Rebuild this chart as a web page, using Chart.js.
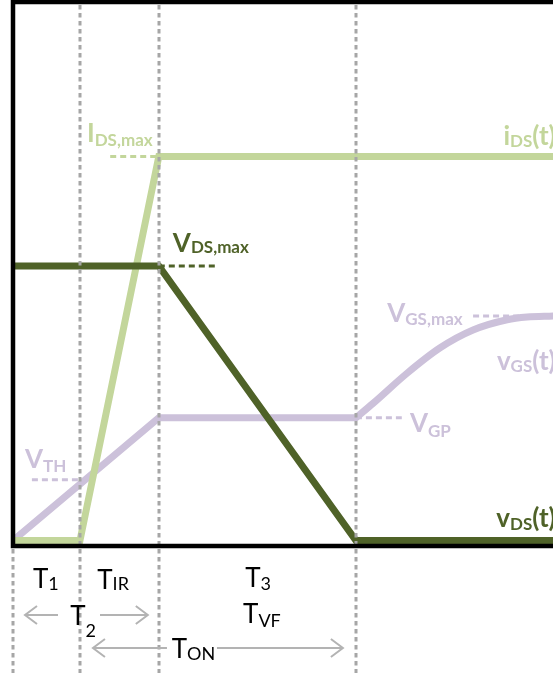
<!DOCTYPE html>
<html>
<head>
<meta charset="utf-8">
<script src="https://cdn.jsdelivr.net/npm/chart.js@4/dist/chart.umd.min.js"></script>
<style>
html, body { margin: 0; padding: 0; background: #fff; overflow: hidden; }
canvas { display: block; }
</style>
</head>
<body>
<canvas id="c" width="553" height="673"></canvas>
<script>
// Turn-on interval boundaries (time, arbitrary units): start, T1 end, T_IR end, T_VF end
const phaseTimes = [0, 1.24, 2.70, 6.35];
const tEnd = 10;

// Reference levels
const I_DS_MAX = 7.13;
const V_DS_MAX = 5.10;
const V_TH = 1.13;
const V_GP = 2.28;
const V_GS_MAX = 4.17;

// Drain current i_DS(t)
const iDsTime = [0, 1.24, 2.70, 10];
const iDsValue = [0, 0, I_DS_MAX, I_DS_MAX];

// Drain-source voltage v_DS(t)
const vDsTime = [0, 2.70, 6.35, 10];
const vDsValue = [V_DS_MAX, V_DS_MAX, 0, 0];

// Gate-source voltage v_GS(t): linear charge and Miller plateau
const vGsTime = [0, 2.70, 6.35];
const vGsValue = [0, V_GP, V_GP];

// Gate-source voltage v_GS(t): final charge after the plateau
const vGsTailTime = [6.35, 6.67, 7.30, 7.91, 8.52, 9.15, 9.52, 10];
const vGsTailValue = [V_GP, 2.55, 3.11, 3.58, 3.91, 4.10, 4.15, V_GS_MAX];

// Short dashed leaders tying each level label to its waveform
const guideIdsX = [1.80, 2.70];
const guideVdsX = [2.70, 3.74];
const guideVthX = [0.35, 1.24];
const guideVgpX = [6.35, 7.20];
const guideVgsX = [8.52, 9.60];

const LIGHT_GREEN = '#c3d69b';
const DARK_GREEN = '#4f6228';
const LAVENDER = '#ccc1da';
const GRID_GRAY = '#a6a6a6';
const FONT = 'Lato, "Open Sans", sans-serif';

const pts = (xs, ys) => xs.map((x, i) => ({ x, y: ys[i] }));
const flat = (xs, y) => xs.map(x => ({ x, y }));

const wave = (data, color, extra) => Object.assign({
  data, borderColor: color, borderWidth: 7, pointRadius: 0,
  tension: 0, borderJoinStyle: 'miter', fill: false
}, extra || {});
const guide = (data, color) => ({
  data, borderColor: color, borderWidth: 3, pointRadius: 0,
  borderDash: [6, 4], tension: 0, fill: false
});

// Text with a subscript and an optional trailing part
function drawSub(ctx, x, y, parts, align) {
  const { main, sub, tail, color, bold, size, subSize, subDy } = parts;
  const w = bold ? 'bold ' : '';
  const mainFont = w + size + 'px ' + FONT;
  const subFont = w + subSize + 'px ' + FONT;
  ctx.font = mainFont; const wMain = ctx.measureText(main).width;
  const wTail = tail ? ctx.measureText(tail).width : 0;
  ctx.font = subFont; const wSub = ctx.measureText(sub).width;
  let left = x;
  if (align === 'right') left = x - (wMain + wSub + wTail);
  ctx.fillStyle = color;
  ctx.textBaseline = 'alphabetic';
  ctx.textAlign = 'left';
  ctx.font = mainFont; ctx.fillText(main, left, y);
  ctx.font = subFont; ctx.fillText(sub, left + wMain, y + subDy);
  if (tail) { ctx.font = mainFont; ctx.fillText(tail, left + wMain + wSub, y); }
}

function arrow(ctx, x0, x1, y) {
  // shaft from x0 to x1, open head at x1
  const dir = Math.sign(x1 - x0);
  ctx.beginPath();
  ctx.moveTo(x0, y); ctx.lineTo(x1, y);
  ctx.moveTo(x1 - dir * 12, y - 9); ctx.lineTo(x1, y); ctx.lineTo(x1 - dir * 12, y + 9);
  ctx.stroke();
}

const overlay = {
  id: 'overlay',
  afterDatasetsDraw(chart) {
    const { ctx, chartArea: a, scales: { x } } = chart;
    const H = chart.height;
    ctx.save();
    ctx.strokeStyle = GRID_GRAY;
    ctx.lineWidth = 3;
    ctx.setLineDash([4.5, 3.5]);
    phaseTimes.forEach((t, i) => {
      const px = Math.round(x.getPixelForValue(t));
      ctx.beginPath();
      ctx.moveTo(px, i === 0 ? a.bottom + 3 : a.top + 3);
      ctx.lineTo(px, H);
      ctx.stroke();
    });
    ctx.restore();
  },
  afterDraw(chart) {
    const { ctx, chartArea: a, scales: { x, y } } = chart;
    ctx.save();
    // frame: left, top and bottom edges
    ctx.strokeStyle = '#000';
    ctx.lineWidth = 4.5;
    ctx.lineCap = 'butt';
    ctx.beginPath();
    ctx.moveTo(a.left, a.bottom + 2.25); ctx.lineTo(a.left, a.top - 2.25);
    ctx.moveTo(a.left - 2.25, a.top); ctx.lineTo(chart.width, a.top);
    ctx.moveTo(a.left - 2.25, a.bottom); ctx.lineTo(chart.width, a.bottom);
    ctx.stroke();

    const X = v => x.getPixelForValue(v);
    const Y = v => y.getPixelForValue(v);
    const lab = (color) => ({ color, bold: true, size: 26, subSize: 17 });

    // level labels
    drawSub(ctx, X(1.37), Y(7.40), Object.assign(lab(LIGHT_GREEN), { main: 'I', sub: 'DS,max', subDy: 4 }));
    drawSub(ctx, X(2.96), Y(5.36), Object.assign(lab(DARK_GREEN), { main: 'V', sub: 'DS,max', subDy: 1 }));
    drawSub(ctx, X(0.22), Y(1.35), Object.assign(lab(LAVENDER), { main: 'V', sub: 'TH', subDy: 4 }));
    drawSub(ctx, X(6.93), Y(4.06), Object.assign(lab(LAVENDER), { main: 'V', sub: 'GS,max', subDy: 3 }));
    drawSub(ctx, X(7.35), Y(2.02), Object.assign(lab(LAVENDER), { main: 'V', sub: 'GP', subDy: 5 }));

    // waveform names
    drawSub(ctx, X(10.05), Y(7.35), Object.assign(lab(LIGHT_GREEN), { main: 'i', sub: 'DS', tail: '(t)', subDy: 2 }), 'right');
    drawSub(ctx, X(10.05), Y(3.17), Object.assign(lab(LAVENDER), { main: 'v', sub: 'GS', tail: '(t)', subDy: 2 }), 'right');
    drawSub(ctx, X(10.05), Y(0.25), Object.assign(lab(DARK_GREEN), { main: 'v', sub: 'DS', tail: '(t)', subDy: 3 }), 'right');

    // interval labels under the axis
    const b = a.bottom;
    const tl = { color: '#000', bold: false, size: 26, subSize: 18 };
    drawSub(ctx, X(0.37), b + 42, Object.assign({}, tl, { main: 'T', sub: '1', subDy: 2 }));
    drawSub(ctx, X(1.56), b + 43, Object.assign({}, tl, { main: 'T', sub: 'IR', subDy: 1 }));
    drawSub(ctx, X(4.30), b + 41, Object.assign({}, tl, { main: 'T', sub: '3', subDy: 3 }));
    drawSub(ctx, X(1.06), b + 79, Object.assign({}, tl, { main: 'T', sub: '2', subDy: 12 }));
    drawSub(ctx, X(4.26), b + 77, Object.assign({}, tl, { main: 'T', sub: 'VF', subDy: 4 }));
    drawSub(ctx, X(2.94), b + 112, Object.assign({}, tl, { main: 'T', sub: 'ON', subDy: 2 }));

    // span arrows
    ctx.strokeStyle = '#b3b3b3';
    ctx.lineWidth = 2;
    ctx.setLineDash([]);
    const p0 = X(phaseTimes[0]), p1 = X(phaseTimes[1]), p2 = X(phaseTimes[2]), p3 = X(phaseTimes[3]);
    arrow(ctx, p0 + 45, p0 + 12, b + 69);
    arrow(ctx, p0 + 87, p2 - 11, b + 69);
    arrow(ctx, p1 + 87, p1 + 13, b + 102);
    arrow(ctx, p1 + 137, p3 - 13, b + 102);
    ctx.restore();
  }
};

new Chart(document.getElementById('c'), {
  type: 'line',
  data: {
    datasets: [
      wave(pts(vDsTime, vDsValue), DARK_GREEN),
      wave(pts(iDsTime, iDsValue), LIGHT_GREEN),
      wave(pts(vGsTime, vGsValue), LAVENDER),
      wave(pts(vGsTailTime, vGsTailValue), LAVENDER, { cubicInterpolationMode: 'monotone', borderCapStyle: 'round' }),
      guide(flat(guideIdsX, I_DS_MAX), LIGHT_GREEN),
      guide(flat(guideVdsX, V_DS_MAX), DARK_GREEN),
      guide(flat(guideVthX, V_TH), LAVENDER),
      guide(flat(guideVgpX, V_GP), LAVENDER),
      guide(flat(guideVgsX, V_GS_MAX), LAVENDER)
    ]
  },
  options: {
    responsive: false,
    animation: false,
    devicePixelRatio: 1,
    events: [],
    layout: { padding: { left: 13, top: 2, right: 0, bottom: 127 } },
    plugins: { legend: { display: false }, tooltip: { enabled: false } },
    scales: {
      x: { type: 'linear', min: 0, max: tEnd, display: false },
      y: { type: 'linear', min: -0.1, max: 10, display: false }
    }
  },
  plugins: [overlay]
});
</script>
</body>
</html>
